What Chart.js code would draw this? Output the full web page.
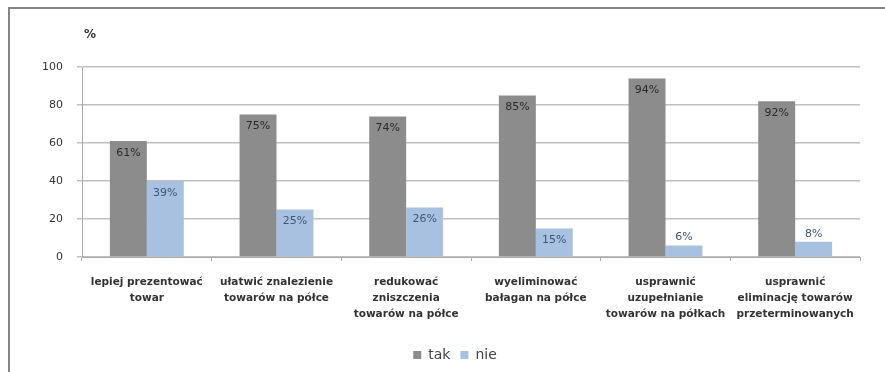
<!DOCTYPE html>
<html><head><meta charset="utf-8">
<script src="https://cdn.jsdelivr.net/npm/chart.js@4/dist/chart.umd.min.js"></script>
<style>
html,body{margin:0;padding:0;background:#fff;}
#wrap{position:relative;width:885px;height:372px;}
#frame{position:absolute;left:8px;top:7px;right:0;bottom:0;border-left:2px solid #858585;border-top:2px solid #858585;pointer-events:none;}
canvas{position:absolute;left:0;top:0;}
</style>
</head><body>
<div id="wrap"><canvas id="c" width="885" height="372"></canvas><div id="frame"></div></div>
<script>
const categories = [
  ['lepiej prezentować', 'towar'],
  ['ułatwić znalezienie', 'towarów na półce'],
  ['redukować', 'zniszczenia', 'towarów na półce'],
  ['wyeliminować', 'bałagan na półce'],
  ['usprawnić', 'uzupełnianie', 'towarów na półkach'],
  ['usprawnić', 'eliminację towarów', 'przeterminowanych']
];
const takValues = [61, 75, 74, 85, 94, 82];
const nieValues = [40, 25, 26, 15, 6, 8];
const takLabels = ['61%', '75%', '74%', '85%', '94%', '92%'];
const nieLabels = ['39%', '25%', '26%', '15%', '6%', '8%'];
const yTicks = [0, 20, 40, 60, 80, 100];

const FONT = '"DejaVu Sans", Verdana, sans-serif';

const labelPlugin = {
  id: 'barLabels',
  afterLayout(chart) {
    const lg = chart.legend;
    if (lg) { lg.left += 20; lg.right += 20; }
  },
  afterDatasetsDraw(chart) {
    const ctx = chart.ctx;
    ctx.save();
    ctx.font = '11px ' + FONT;
    ctx.textAlign = 'center';
    ctx.textBaseline = 'middle';
    chart.data.datasets.forEach((ds, di) => {
      const meta = chart.getDatasetMeta(di);
      const labels = di === 0 ? takLabels : nieLabels;
      meta.data.forEach((bar, i) => {
        const h = bar.base - bar.y;
        let y;
        if (h > 22) y = bar.y + 12; else y = bar.y - 8;
        ctx.fillStyle = di === 0 ? '#2a2a2a' : '#3c5675';
        ctx.fillText(labels[i], bar.x, y);
      });
    });
    ctx.font = 'bold 12px ' + FONT;
    ctx.fillStyle = '#333';
    ctx.textAlign = 'left';
    ctx.fillText('%', 84, 35);
    ctx.restore();
  }
};

new Chart(document.getElementById('c'), {
  type: 'bar',
  data: {
    labels: categories,
    datasets: [
      { label: 'tak', data: takValues, backgroundColor: '#8c8c8c', categoryPercentage: 0.57, barPercentage: 1.0 },
      { label: 'nie', data: nieValues, backgroundColor: '#a9c1e1', categoryPercentage: 0.57, barPercentage: 1.0 }
    ]
  },
  options: {
    responsive: false,
    animation: false,
    devicePixelRatio: 1,
    layout: { padding: { left: 10, top: 67, right: 25, bottom: 0 } },
    plugins: {
      tooltip: { enabled: false },
      legend: {
        position: 'bottom',
        labels: { boxWidth: 8, boxHeight: 8, padding: 10, color: '#444', font: { family: FONT, size: 14 } }
      }
    },
    scales: {
      x: {
        afterFit(s) { s.height = 81; },
        grid: { drawOnChartArea: false, drawTicks: true, tickLength: 4, offset: true, color: '#aaa' },
        border: { color: '#aaa' },
        ticks: { color: '#333', padding: 13, maxRotation: 0, autoSkip: false, font: { family: FONT, size: 10.5, weight: 'bold', lineHeight: '16px' } }
      },
      y: {
        min: 0, max: 100,
        afterFit(s) { s.width = 72; },
        afterBuildTicks(s) { s.ticks = yTicks.map(v => ({ value: v })); },
        grid: { color: '#c0c0c0', tickLength: 5, lineWidth: 1.5 },
        border: { color: '#aaa' },
        ticks: { color: '#333', padding: 14, font: { family: FONT, size: 11 } }
      }
    }
  },
  plugins: [labelPlugin]
});
</script>
</body></html>
